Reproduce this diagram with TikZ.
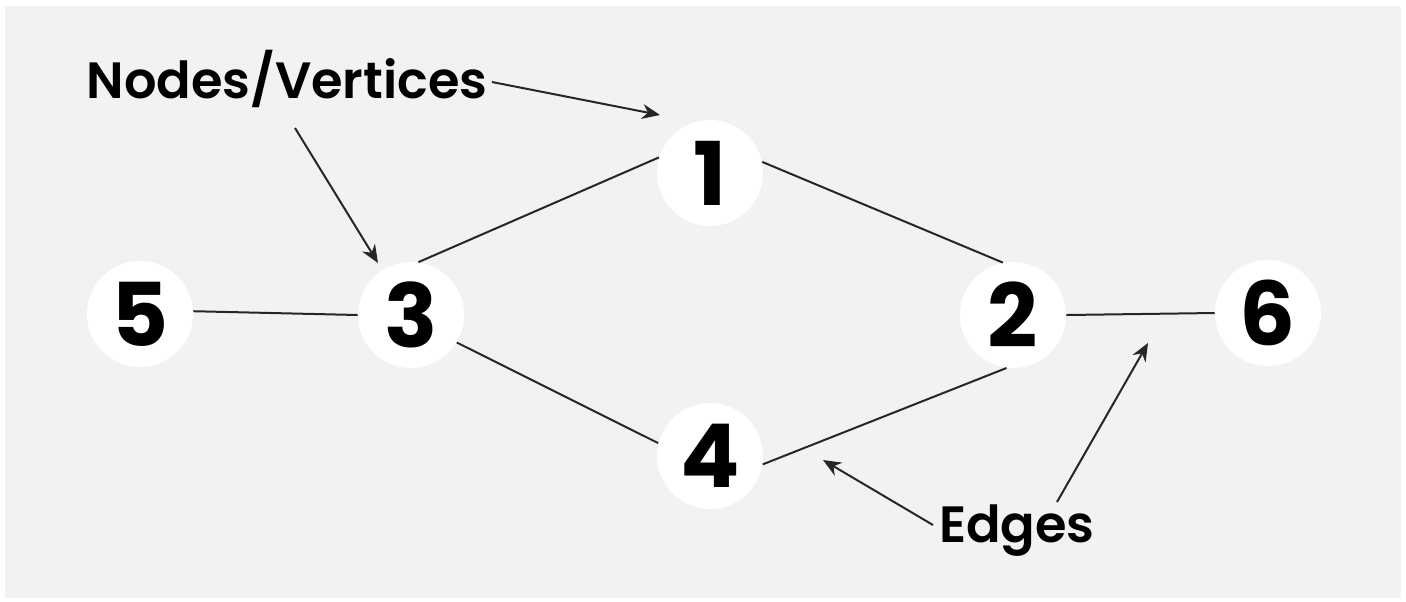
\documentclass[tikz,border=0pt]{standalone}
\usepackage{fontspec}
\setmainfont{Poppins}
\newfontfamily\labelfont{Poppins SemiBold}
\usetikzlibrary{arrows.meta}
\definecolor{bggray}{HTML}{F2F2F2}
\tikzset{
  vert/.style={circle, fill=white, inner sep=0pt, minimum size=53pt,
    font=\bfseries\fontsize{44}{44}\selectfont},
  lbl/.style={anchor=base, inner sep=0pt, font=\labelfont\fontsize{25.5}{25.5}\selectfont},
  edgeline/.style={draw=black!85, line width=1pt},
  pointer/.style={draw=black!85, line width=1pt, -{Stealth[length=9pt,width=7.5pt]}}
}
\begin{document}
\begin{tikzpicture}[x=0.5pt, y=-0.5pt]
\useasboundingbox (0,0) rectangle (1406,601);
\fill[white] (0,0) rectangle (1406,601);
\fill[bggray] (5,6) rectangle (1401,598);
% vertices
\node[vert] (n1) at (710,173) {1};
\node[vert] (n2) at (1013,315) {2};
\node[vert] (n3) at (411,315) {3};
\node[vert] (n4) at (710,456) {4};
\node[vert] (n5) at (140,314) {5};
\node[vert] (n6) at (1268,313) {6};
% edges
\draw[edgeline] (n3.82) -- (n1.163);
\draw[edgeline] (n1.12) -- (n2.101);
\draw[edgeline] (n5.3) -- (n3.180);
\draw[edgeline] (n2.0) -- (n6.180);
\draw[edgeline] (n3.-31) -- (n4.166);
\draw[edgeline] (n4.-9) -- (n2.263);
% labels
\node[lbl] (nv) at (287,98) {Nodes/Vertices};
\node[lbl] (ed) at (1017,542) {Edges};
\coordinate (t1) at (660,115);
\coordinate (t3) at (378,263);
\coordinate (t4) at (823,460);
\coordinate (t2) at (1148,343);
\coordinate (s1) at (492,82);
\coordinate (s3) at (295,128);
\coordinate (s4) at (933,525);
\coordinate (s2) at (1057,502);
\draw[pointer] (s1) -- (t1);
\draw[pointer] (s3) -- (t3);
\draw[pointer] (s4) -- (t4);
\draw[pointer] (s2) -- (t2);
\end{tikzpicture}
\end{document}
